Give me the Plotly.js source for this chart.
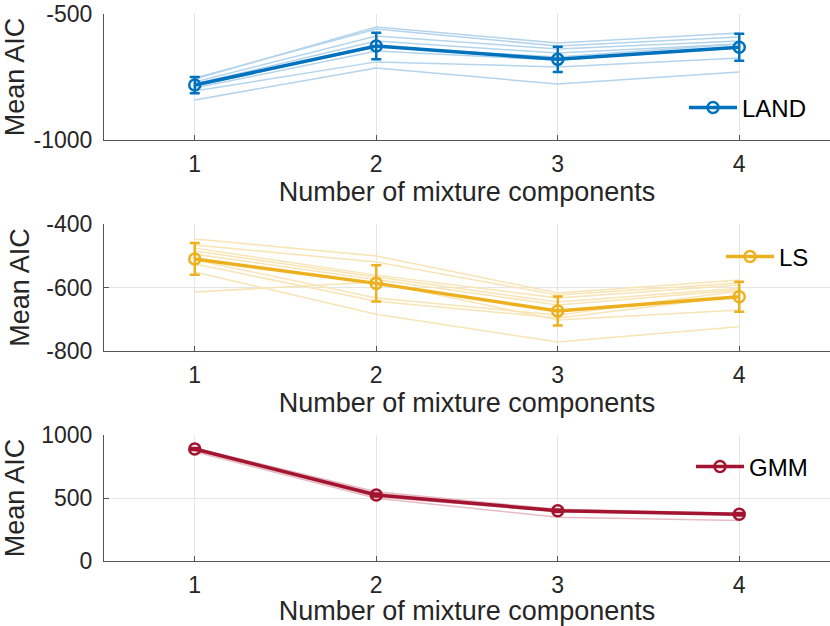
<!DOCTYPE html>
<html>
<head>
<meta charset="utf-8">
<script src="https://cdn.plot.ly/plotly-3.0.1.min.js"></script>
<style>
  html, body { margin: 0; padding: 0; background: #fff; }
  #chart { width: 830px; height: 626px; }
</style>
</head>
<body>
<div id="chart"></div>
<script>
// number of mixture components (x axis)
let components = [1, 2, 3, 4];

// LAND: mean AIC with error bars, plus the single runs
let landMean = [-782, -627, -680, -632];
let landErr = [32, 53, 50, 54];
let landRuns = [
  [-758, -552, -615, -575],
  [-754, -560, -627, -591],
  [-770, -587, -639, -607],
  [-778, -607, -655, -619],
  [-786, -631, -671, -619],
  [-794, -647, -683, -635],
  [-806, -690, -710, -675],
  [-841, -714, -778, -730]
];

// LS
let lsMean = [-510, -587, -674, -629];
let lsErr = [50, 57, 46, 47];
let lsRuns = [
  [-447, -501, -617, -576],
  [-466, -520, -624, -586],
  [-476, -561, -633, -592],
  [-485, -567, -646, -602],
  [-495, -576, -655, -608],
  [-513, -633, -687, -611],
  [-526, -643, -696, -627],
  [-551, -684, -772, -724],
  [-614, -583, -702, -671]
];

// GMM
let gmmMean = [889, 524, 399, 371];
let gmmErr = [8, 12, 10, 10];
let gmmRuns = [
  [897, 550, 410, 378],
  [893, 538, 405, 375],
  [888, 530, 402, 372],
  [882, 520, 398, 368],
  [875, 510, 392, 365],
  [866, 498, 347, 322]
];

let yTicks = [[-1000, -500], [-800, -600, -400], [0, 500, 1000]];
let yTickText = [['-1000', '-500'], ['-800', '-600', '-400'], ['0', '500', '1000']];
let yRanges = [[-1000, -500], [-800, -400], [0, 1000]];

let FONT = 'Liberation Sans, Arial, sans-serif';

function runTraces(runs, color, ax) {
  return runs.map(function (r) {
    return {
      x: components, y: r, mode: 'lines', type: 'scatter',
      line: {color: color, width: 1.5},
      xaxis: 'x' + ax, yaxis: 'y' + ax,
      showlegend: false, hoverinfo: 'skip'
    };
  });
}

function meanTrace(mean, err, name, color, ax, leg) {
  return {
    x: components, y: mean, name: name, type: 'scatter',
    mode: 'lines+markers',
    line: {color: color, width: 3.5},
    marker: {symbol: 'circle-open', size: 11, color: color, line: {width: 2.5, color: color}},
    error_y: {type: 'data', array: err, visible: true, color: color, thickness: 2.5, width: 5},
    xaxis: 'x' + ax, yaxis: 'y' + ax,
    legend: leg
  };
}

let data = []
  .concat(runTraces(landRuns, '#b3d4ec', ''))
  .concat([meanTrace(landMean, landErr, 'LAND', '#0072BD', '', 'legend')])
  .concat(runTraces(lsRuns, '#f8e4b4', '2'))
  .concat([meanTrace(lsMean, lsErr, 'LS', '#EDB120', '2', 'legend2')])
  .concat(runTraces(gmmRuns, '#e6bcc4', '3'))
  .concat([meanTrace(gmmMean, gmmErr, 'GMM', '#A2142F', '3', 'legend3')]);

// panel positions in paper units
let W = 830, H = 626;
let panels = [[14, 140], [224, 351], [435, 561]];

function xAxis(anchor, i) {
  return {
    domain: [104 / W, 1], range: [0.5, 4.5], anchor: anchor,
    tickvals: components, ticks: 'inside', ticklen: 5, tickcolor: '#555',
    showline: true, linecolor: '#555', linewidth: 1,
    showgrid: true, gridcolor: '#e5e5e5', zeroline: false,
    tickfont: {family: FONT, size: 23, color: '#262626'},
    ticklabelstandoff: 3,
    title: {text: 'Number of mixture components', standoff: 5,
            font: {family: FONT, size: 27, color: '#262626'}}
  };
}

function yAxis(anchor, i) {
  let p = panels[i];
  return {
    domain: [1 - p[1] / H, 1 - p[0] / H], range: yRanges[i], anchor: anchor,
    tickvals: yTicks[i], ticktext: yTickText[i],
    ticks: 'inside', ticklen: 5, tickcolor: '#555',
    showline: true, linecolor: '#555', linewidth: 1,
    showgrid: true, gridcolor: '#e5e5e5', zeroline: false,
    tickfont: {family: FONT, size: 23, color: '#262626'},
    ticklabelstandoff: 6,
    title: {text: 'Mean AIC', standoff: 8,
            font: {family: FONT, size: 27, color: '#262626'}}
  };
}

function legendAt(x, y) {
  return {
    x: x / W, y: 1 - y / H, xanchor: 'left', yanchor: 'middle',
    bgcolor: 'rgba(0,0,0,0)', borderwidth: 0, itemwidth: 48,
    font: {family: FONT, size: 24, color: '#000'}
  };
}

let layout = {
  width: W, height: H,
  margin: {l: 0, r: 0, t: 0, b: 0},
  paper_bgcolor: '#fff', plot_bgcolor: '#fff',
  showlegend: true,
  font: {family: FONT},
  xaxis: xAxis('y', 0), yaxis: yAxis('x', 0),
  xaxis2: xAxis('y2', 1), yaxis2: yAxis('x2', 1),
  xaxis3: xAxis('y3', 2), yaxis3: yAxis('x3', 2),
  legend: legendAt(684, 108),
  legend2: legendAt(721, 257),
  legend3: legendAt(691, 467)
};

Plotly.newPlot('chart', data, layout, {staticPlot: true});
</script>
</body>
</html>
